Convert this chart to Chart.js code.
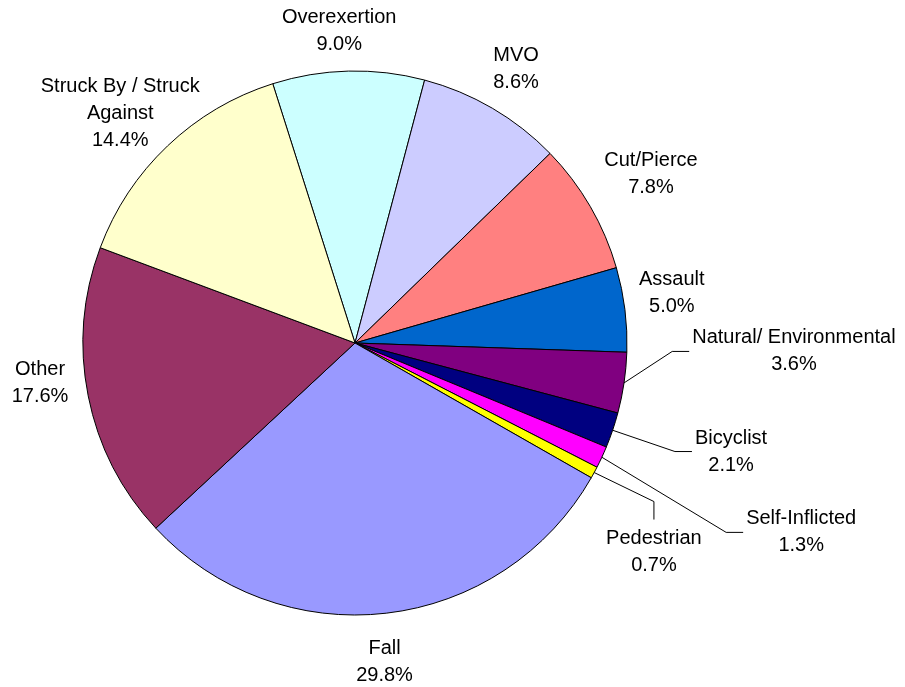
<!DOCTYPE html>
<html>
<head>
<meta charset="utf-8">
<script src="https://cdn.jsdelivr.net/npm/chart.js@4"></script>
<style>
  html, body { margin: 0; padding: 0; background: #fff; }
  canvas { display: block; }
</style>
</head>
<body>
<canvas id="injuryChart" width="905" height="687"></canvas>
<script>
const categories = ['Overexertion', 'MVO', 'Cut/Pierce', 'Assault', 'Natural/ Environmental', 'Bicyclist',
  'Self-Inflicted', 'Pedestrian', 'Fall', 'Other', 'Struck By / Struck\nAgainst']
const percents = [9.0, 8.6, 7.8, 5.0, 3.6, 2.1, 1.3, 0.7, 29.8, 17.6, 14.4]
const colors = ['#CCFFFF', '#CCCCFF', '#FF8080', '#0066CC', '#800080', '#000080',
  '#FF00FF', '#FFFF00', '#9999FF', '#993366', '#FFFFCC']

// label placement: angle from 12 o'clock (deg), distance as a multiple of the radius, leader style
const labelPlace = [
  [-2.9, 1.150, null], [30.4, 1.170, null], [60.2, 1.254, null], [81.1, 1.179, null],
  [91.1, 1.614, 'h'], [106.1, 1.439, 'h'], [113.0, 1.782, 'h'], [124.9, 1.340, 'v'],
  [174.7, 1.176, null], [262.85, 1.167, null], [314.3, 1.206, null]
]

const FONT = '20px "Liberation Sans", Arial, sans-serif'
const LINE_H = 27

const pieLabels = {
  id: 'pieLabels',
  afterDraw(chart) {
    const ctx = chart.ctx
    const arcs = chart.getDatasetMeta(0).data
    ctx.save()
    ctx.font = FONT
    ctx.fillStyle = '#000'
    ctx.strokeStyle = '#000'
    ctx.lineWidth = 1
    ctx.textAlign = 'center'
    ctx.textBaseline = 'middle'
    arcs.forEach((arc, i) => {
      const { x, y, outerRadius, startAngle, endAngle } = arc.getProps(['x', 'y', 'outerRadius', 'startAngle', 'endAngle'], true)
      const [deg, factor, leader] = labelPlace[i]
      const th = (deg - 90) * Math.PI / 180
      const cx = x + outerRadius * factor * Math.cos(th)
      const cy = y + outerRadius * factor * Math.sin(th)
      const lines = categories[i].split('\n').concat(percents[i].toFixed(1) + '%')
      const w = Math.max(...lines.map(l => ctx.measureText(l).width))
      const top = cy - lines.length * LINE_H / 2
      lines.forEach((l, k) => ctx.fillText(l, cx, top + LINE_H * (k + 0.5)))

      if (leader) {
        const mid = (startAngle + endAngle) / 2
        const sx = x + outerRadius * Math.cos(mid)
        const sy = y + outerRadius * Math.sin(mid)
        let ex, ey, bx, by
        if (leader === 'h') {
          ex = cx - w / 2 - 3; ey = cy
          bx = ex - 17; by = cy
        } else {
          ex = cx; ey = top - 5
          bx = cx; by = ey - 18
        }
        ctx.beginPath()
        ctx.moveTo(sx, sy)
        ctx.lineTo(bx, by)
        ctx.lineTo(ex, ey)
        ctx.stroke()
      }
    })
    ctx.restore()
  }
}

new Chart(document.querySelector('#injuryChart'), {
  type: 'pie',
  data: {
    labels: categories,
    datasets: [{
      data: percents,
      backgroundColor: colors,
      borderColor: '#000',
      borderWidth: 1,
      hoverOffset: 0
    }]
  },
  options: {
    responsive: false,
    animation: false,
    rotation: -17.6,
    layout: {
      padding: { left: 82.5, right: 277.5, top: 70.5, bottom: 71.5 }
    },
    events: [],
    plugins: {
      legend: { display: false },
      tooltip: { enabled: false }
    }
  },
  plugins: [pieLabels]
})
</script>
</body>
</html>
